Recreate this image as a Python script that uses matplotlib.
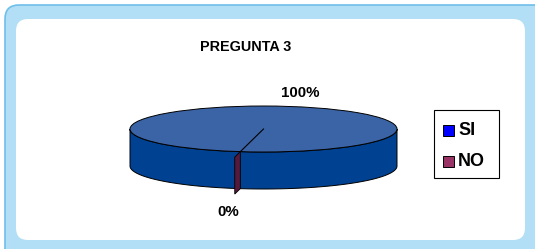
import numpy as np
import matplotlib
matplotlib.use("Agg")
import matplotlib.pyplot as plt
from matplotlib.patches import Polygon, Ellipse, FancyBboxPatch, Rectangle

# ---- data ----
title = "PREGUNTA 3"
categories = ["SI", "NO"]
values = [100, 0]
pct_labels = ["100%", "0%"]

# ---- style ----
top_color = "#3b64a7"
side_color = "#004191"
no_face_color = "#55193a"
legend_colors = ["#0000ff", "#993366"]
plt.rcParams['font.family'] = ['Liberation Sans', 'DejaVu Sans']

W, H = 535, 249
fig = plt.figure(figsize=(W / 100, H / 100), dpi=100)
ax = fig.add_axes([0, 0, 1, 1])
ax.set_xlim(0, W)
ax.set_ylim(H, 0)
ax.axis("off")

# background frame
ax.add_patch(FancyBboxPatch((5, 5), W + 20, H + 20, boxstyle="round,pad=0,rounding_size=14",
                            fc="#b3dff6", ec="#6fbfeb", lw=1.2))
ax.add_patch(FancyBboxPatch((16, 19), 509, 221, boxstyle="round,pad=0,rounding_size=12",
                            fc="white", ec="none"))

# pie geometry (pixels)
cx, cy, a, b, depth = 263.5, 129.0, 133.5, 23.0, 37.0
start_deg = 260.0

def pt(theta_deg, r=1.0, dz=0.0):
    t = np.radians(theta_deg)
    return cx + r * a * np.cos(t), cy - r * b * np.sin(t) + dz

total = float(sum(values))
angles = [start_deg]
for v in values:
    angles.append(angles[-1] + 360.0 * v / total)

# side wall (front half, angles 180..360)
th = np.linspace(180, 360, 200)
top_arc = np.array([pt(t) for t in th])
bot_arc = np.array([pt(t, dz=depth) for t in th[::-1]])
ax.add_patch(Polygon(np.vstack([top_arc, bot_arc]), closed=True, fc=side_color, ec="black", lw=0.7, zorder=2))

# top face
ax.add_patch(Ellipse((cx, cy), 2 * a, 2 * b, fc=top_color, ec="black", lw=0.7, zorder=3))

# slice boundary lines on the top face
for i, v in enumerate(values):
    if v < total:
        x1, y1 = pt(angles[i])
        ax.plot([cx, x1], [cy, y1], color="black", lw=0.8, zorder=4)

# the 0% slice: thin exploded face sticking out of the rim
for i, v in enumerate(values):
    if v == 0:
        th0 = angles[i]
        r_out = 1.24
        p1 = pt(th0, 1.0)
        p2 = pt(th0, r_out)
        p3 = pt(th0, r_out, depth)
        p4 = pt(th0, 1.0, depth)
        ax.add_patch(Polygon([p1, p2, p3, p4], closed=True, fc=no_face_color, ec="black", lw=0.6, zorder=5))

# labels
ax.text(246, 47, title, ha="center", va="center", fontsize=10.4, fontweight="bold", zorder=6)
ax.text(300, 93, pct_labels[0], ha="center", va="center", fontsize=10.8, fontweight="bold", zorder=6)
ax.text(228, 212, pct_labels[1], ha="center", va="center", fontsize=10.8, fontweight="bold", zorder=6)

# legend
ax.add_patch(Rectangle((434, 110), 65, 68, fc="white", ec="black", lw=0.8, zorder=6))
ys = [130, 161]
for lab, col, y in zip(categories, legend_colors, ys):
    ax.add_patch(Rectangle((443, y - 5.5), 11, 11, fc=col, ec="black", lw=0.7, zorder=7))
    ax.text(458, y + 0.5, lab, ha="left", va="center", fontsize=13, fontweight="bold", zorder=7)

fig.savefig("out.png", dpi=100)
